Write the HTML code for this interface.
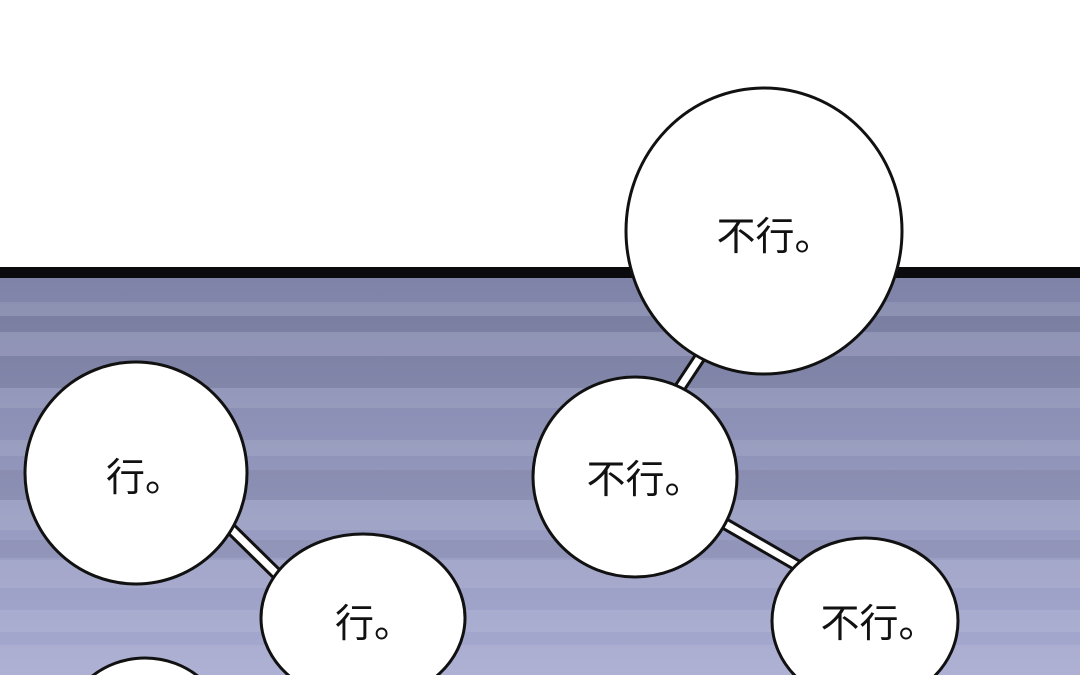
<!DOCTYPE html>
<html><head><meta charset="utf-8"><style>
html,body{margin:0;padding:0;background:#fff;width:1080px;height:675px;overflow:hidden}
svg{display:block}
text{font-family:"Liberation Sans","Noto Sans CJK SC",sans-serif;font-size:39px;fill:#111}
</style></head><body>
<svg width="1080" height="675" viewBox="0 0 1080 675">
<defs><linearGradient id="g" x1="0" y1="0" x2="0" y2="1">
<stop offset="0" stop-color="#7f83a8"/><stop offset="1" stop-color="#a6aad0"/></linearGradient></defs>
<rect x="0" y="0" width="1080" height="675" fill="#fff"/>
<rect x="0" y="278" width="1080" height="397" fill="url(#g)"/>
<g fill="#fff" opacity="0.09">
<rect x="0" y="302" width="1080" height="14"/>
<rect x="0" y="332" width="1080" height="24"/>
<rect x="0" y="388" width="1080" height="20"/>
<rect x="0" y="440" width="1080" height="16"/>
<rect x="0" y="500" width="1080" height="30"/>
<rect x="0" y="560" width="1080" height="28"/>
<rect x="0" y="610" width="1080" height="22"/>
<rect x="0" y="645" width="1080" height="30"/>
</g>
<g fill="#000" opacity="0.05">
<rect x="0" y="316" width="1080" height="16"/>
<rect x="0" y="356" width="1080" height="32"/>
<rect x="0" y="470" width="1080" height="30"/>
<rect x="0" y="540" width="1080" height="18"/>
</g>
<rect x="0" y="267" width="1080" height="11" fill="#0b0b0d"/>
<g stroke-linecap="butt">
<line x1="225" y1="523" x2="285" y2="582" stroke="#111" stroke-width="13"/>
<line x1="225" y1="523" x2="285" y2="582" stroke="#fff" stroke-width="7"/>
<line x1="708" y1="345" x2="675" y2="395" stroke="#111" stroke-width="13"/>
<line x1="708" y1="345" x2="675" y2="395" stroke="#fff" stroke-width="7"/>
<line x1="715" y1="518" x2="805" y2="570" stroke="#111" stroke-width="13"/>
<line x1="715" y1="518" x2="805" y2="570" stroke="#fff" stroke-width="7"/>
</g>
<g fill="#fff" stroke="#111" stroke-width="3">
<ellipse cx="764" cy="231" rx="138" ry="143"/>
<ellipse cx="635" cy="477" rx="102" ry="100"/>
<ellipse cx="865" cy="621" rx="93" ry="83"/>
<ellipse cx="136" cy="473" rx="111" ry="111"/>
<ellipse cx="363" cy="618" rx="102" ry="84"/>
<ellipse cx="145" cy="735" rx="82" ry="77"/>
</g>
<text x="775" y="250" text-anchor="middle">不行。</text>
<text x="645" y="493" text-anchor="middle">不行。</text>
<text x="879" y="637" text-anchor="middle">不行。</text>
<text x="145" y="491" text-anchor="middle">行。</text>
<text x="374" y="637" text-anchor="middle">行。</text>
</svg>
</body></html>
